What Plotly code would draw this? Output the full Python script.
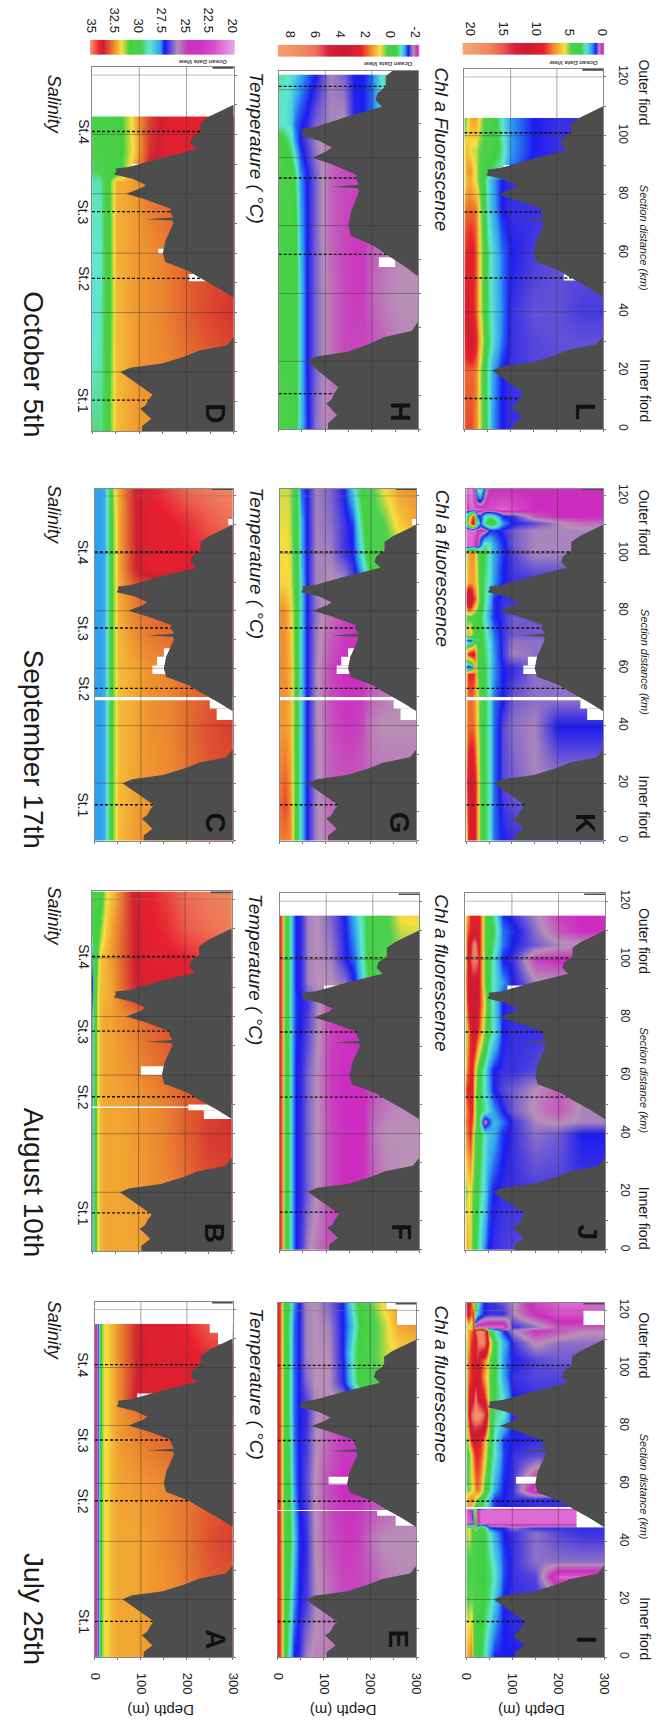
import numpy as np
import plotly.graph_objects as go

FONT = "Liberation Sans"
W, H = 661, 1726

# ---------- bathymetry ----------
BATHY_KM = [0, 1.8, 4.1, 6, 7.6, 8.7, 10.7, 12.4, 20, 21.4, 22.8, 25.3, 27.1, 29, 31.8, 45, 48, 52, 54, 56, 57, 60, 64, 70, 71, 71.4, 72, 74, 75, 78, 80, 82, 83, 85, 86.5, 87.5, 88.5, 89, 92, 95, 97, 99, 101, 104, 106, 110, 111]
BATHY_M = [106, 106, 125, 113, 102, 113, 120, 128, 60, 81, 148, 198, 226, 286, 300, 300, 270, 225, 205, 172, 155, 150, 155, 172, 170, 115, 172, 165, 167, 115, 73, 105, 114, 87, 47, 51, 50, 78, 145, 221, 208, 212, 230, 230, 248, 300, 300]
OUTER_KM = [122.1, 124]
OUTER_M = [255, 255]

# ---------- colour scales: value stops and colours ----------
SAL_LEVELS = [20, 22, 23.4, 24.8, 25.8, 27.2, 27.7, 28.8, 29.7, 30.9, 31.8, 32.4, 33.7, 34.1, 35]
SAL_COLORS = ["#e8a0e8", "#d850c8", "#d030c8", "#c838b8", "#b090b8", "#1818f0", "#30a0f0", "#60e8d0", "#50d050", "#40d040", "#f8e040", "#f09a30", "#d02030", "#e82030", "#f08860"]
TEMP_LEVELS = [-2.4, -2.1, -1.75, -1.35, -1.1, -0.8, -0.4, 0.3, 0.85, 1.6, 2.4, 3.7, 5, 6, 7, 9]
TEMP_COLORS = ["#e8a0e8", "#cc2cc0", "#b890b8", "#1c1cf0", "#30a0f0", "#60e8d0", "#40d040", "#50d050", "#f8e040", "#f09030", "#e8202c", "#c81c30", "#d82040", "#f07060", "#f08860", "#f4a070"]
CHL_LEVELS = [-0.5, -0.2, 0.1, 0.55, 1.1, 1.7, 2.6, 3.4, 4.8, 5.8, 7.5, 9, 11.2, 13.4, 15.4, 17.4, 21]
CHL_COLORS = ["#e8a0e8", "#d850c8", "#cc2cc0", "#b890b8", "#1c1cf0", "#30a0f0", "#60e8d0", "#40d040", "#50d050", "#f8e040", "#f09030", "#e8202c", "#c81c30", "#d82040", "#e86050", "#f08860", "#f4a870"]

# ---------- depth levels ----------
SAL_DEPTH = [0, 3, 6, 10, 15, 20, 30, 40, 50, 90, 120, 160, 200, 250, 300]
TEMP_DEPTH = [0, 5, 8, 12, 18, 25, 35, 45, 60, 80, 110, 140, 160, 180, 200, 230, 260, 300]
CHL_DEPTH = [0, 5, 10, 15, 20, 25, 30, 40, 50, 60, 80, 100, 150, 200, 250, 300]

# ---------- salinity sections ----------
A_KM = [0, 20, 40, 60, 85, 90, 100, 115]
A_Z = [
 [24, 24.5, 26.5, 30.3, 31.3, 31.7, 32, 32.2, 32.3, 32.3, 32.4, 32.5, 32.7, 33, 33],
 [24, 24.5, 26.5, 30.3, 31.3, 31.7, 32, 32.2, 32.3, 32.3, 32.4, 32.5, 32.7, 33, 33],
 [24, 24.5, 26.5, 30.3, 31.3, 31.7, 32, 32.2, 32.3, 32.3, 32.4, 32.6, 32.8, 33.2, 33.4],
 [24, 24.5, 26.5, 30.3, 31.3, 31.7, 32, 32.2, 32.3, 32.4, 32.5, 32.6, 32.8, 33, 33.2],
 [24, 24.5, 26.5, 30.3, 31.3, 31.7, 32, 32.2, 32.4, 32.8, 33, 33.2, 33.3, 33.4, 33.4],
 [24, 24.5, 26.5, 30.3, 31.3, 31.7, 32, 32.2, 32.5, 33.8, 33.9, 33.9, 34, 34, 34],
 [24, 24.5, 26.5, 30.3, 31.3, 31.7, 32, 32.2, 32.5, 33.6, 34, 33.9, 33.9, 34, 34],
 [24, 24.5, 26.5, 30.3, 31.3, 31.7, 32, 32.2, 32.5, 33.6, 33.9, 33.9, 34.1, 34.7, 34.9]]
B_KM = [0, 40, 50, 80, 90, 100, 110, 123]
B_Z = [
 [26, 29, 30.3, 31.6, 32, 32.2, 32.3, 32.3, 32.3, 32.3, 32.4, 32.5, 32.7, 33, 33],
 [26, 29, 30.3, 31.6, 32, 32.2, 32.3, 32.3, 32.3, 32.4, 32.5, 32.7, 33, 33.4, 33.5],
 [26, 29, 30.3, 31.6, 32, 32.2, 32.3, 32.3, 32.3, 32.4, 32.5, 32.7, 33, 33.3, 33.5],
 [26, 29, 30.3, 31.6, 32, 32.2, 32.3, 32.3, 32.4, 32.7, 33, 33.2, 33.3, 33.4, 33.4],
 [27, 30, 30.4, 31.5, 32, 32.1, 32.2, 32.3, 32.5, 33.6, 33.9, 33.9, 34, 34, 34],
 [28, 30.2, 30.3, 31, 31.7, 32.1, 32.2, 32.4, 32.6, 33.7, 34, 34, 34.1, 34.4, 34.6],
 [29.8, 30.2, 30.3, 30.4, 30.8, 31.3, 32, 32.3, 32.5, 33.7, 34, 34.2, 34.6, 34.8, 34.9],
 [30.3, 30.3, 30.3, 30.3, 30.4, 30.6, 31.7, 32, 32.2, 33.8, 34.1, 34.4, 34.8, 34.9, 35]]
C_KM = [0, 40, 60, 85, 95, 110, 123]
C_Z = [
 [27.7, 27.7, 27.7, 27.7, 27.8, 27.9, 29.5, 31.2, 32.1, 32.4, 32.4, 32.5, 32.7, 33, 33],
 [27.7, 27.7, 27.7, 27.7, 27.8, 27.9, 29.5, 31.2, 32.1, 32.3, 32.5, 32.6, 32.9, 33.2, 33.4],
 [27.7, 27.7, 27.7, 27.7, 27.8, 27.9, 29.5, 31.2, 32.1, 32.3, 32.5, 32.6, 32.8, 33, 33.2],
 [27.7, 27.7, 27.7, 27.7, 27.8, 27.9, 29.5, 31.2, 32.2, 32.8, 33, 33.2, 33.3, 33.4, 33.4],
 [27.7, 27.7, 27.7, 27.7, 27.8, 27.9, 29.5, 31.2, 32.2, 33.7, 34, 34, 34, 34, 34],
 [27.7, 27.7, 27.7, 27.7, 27.8, 27.9, 29.5, 31.2, 32.2, 33.7, 34, 34, 34.2, 34.6, 34.8],
 [27.7, 27.7, 27.7, 27.7, 27.8, 27.9, 29.5, 31.5, 32.2, 33.8, 34, 34.4, 34.8, 34.9, 35]]
D_KM = [0, 20, 40, 60, 84, 88, 95, 106]
D_Z = [
 [29.4, 29.4, 29.4, 29.4, 29.3, 29.3, 30.2, 31.3, 32.1, 32.4, 32.4, 32.5, 32.7, 33, 33],
 [28.9, 28.9, 28.9, 29, 29, 29.1, 30.2, 31.3, 32.1, 32.4, 32.5, 32.6, 32.8, 33, 33.2],
 [28.7, 28.7, 28.7, 28.8, 28.9, 29, 30.2, 31.2, 32.1, 32.4, 32.5, 32.7, 33, 33.3, 33.5],
 [28.8, 28.8, 28.8, 28.8, 28.8, 28.9, 30.2, 31.2, 32.2, 32.4, 32.5, 32.7, 33, 33.2, 33.4],
 [28.9, 29, 29, 29, 29, 29.2, 30.3, 31.3, 32.2, 32.4, 32.8, 33, 33.2, 33.4, 33.4],
 [29.5, 29.6, 29.7, 29.7, 29.8, 29.9, 30.2, 30.3, 30.4, 32.4, 33.7, 33.9, 34, 34, 34],
 [29.8, 29.9, 30, 30, 30.1, 30.2, 30.3, 30.3, 30.4, 32, 33.5, 34, 34, 34, 34],
 [30, 30.1, 30.2, 30.2, 30.2, 30.3, 30.3, 30.3, 30.4, 32.2, 33.3, 34, 34, 34, 34]]

# ---------- temperature sections ----------
E_KM = [0, 20, 40, 60, 85, 95, 105, 115, 123]
E_Z = [
 [2.4, 2.2, 1.3, .2, -.3, -.9, -1.35, -1.4, -1.7, -1.8, -1.8, -1.8, -1.8, -1.8, -1.8, -1.8, -1.8, -1.8],
 [2.4, 2.2, 1.3, .3, -.2, -.6, -1.1, -1.35, -1.45, -1.7, -1.85, -2, -2, -2, -2, -1.9, -1.8, -1.8],
 [2.4, 2.2, 1.2, .3, 0, -.4, -.9, -1.3, -1.4, -1.75, -1.95, -2.05, -2.05, -2, -1.85, -1.75, -1.75, -1.75],
 [2.4, 2.2, 1, .3, 0, -.5, -1.1, -1.35, -1.5, -1.75, -2, -2.1, -2.1, -2.1, -2.05, -2, -1.9, -1.8],
 [2.4, 2.2, 1, .3, -.1, -.7, -1.2, -1.35, -1.4, -1.7, -1.85, -2, -2, -2, -2, -2, -2, -2],
 [2.4, 2.2, 1, .3, -.1, -.7, -1.2, -1.35, -1.6, -1.75, -1.75, -1.4, -.9, -.2, .2, .3, .5, .5],
 [2.4, 2.2, 1, .3, -.1, -.7, -1.2, -1.35, -1.7, -1.75, -1.75, -1.35, -.8, -.2, .2, .6, .9, 1],
 [2.4, 2.2, 1, .2, -.2, -.7, -1.2, -1.35, -1.7, -1.75, -1.7, -1.35, -1, -.3, .1, .6, 1.4, 1.6],
 [2.4, 2.2, 1, .2, -.2, -.6, -1.1, -1.35, -1.7, -1.75, -1.6, -1.35, -.8, -.2, .3, 1, 1.5, 1.6]]
F_KM = [0, 20, 40, 60, 85, 92, 100, 115]
F_Z = [
 [2.4, 1.8, .6, .1, -.4, -1, -1.35, -1.45, -1.7, -1.85, -2, -2, -2, -2, -1.9, -1.8, -1.8, -1.8],
 [2.4, 1.8, .6, .1, -.4, -1, -1.35, -1.4, -1.6, -1.75, -2, -2.1, -2.1, -2.05, -1.95, -1.8, -1.75, -1.75],
 [2.4, 1.8, .6, .1, -.4, -1, -1.35, -1.4, -1.6, -1.75, -2, -2.1, -2.1, -2.1, -1.85, -1.75, -1.75, -1.75],
 [2.4, 1.8, .6, .1, -.4, -1, -1.35, -1.4, -1.6, -1.75, -2.05, -2.1, -2.1, -2.1, -2, -1.9, -1.8, -1.8],
 [2.4, 1.8, .6, .1, -.4, -1, -1.3, -1.35, -1.45, -1.7, -2, -2.05, -2.05, -2.05, -2, -2, -2, -2],
 [2.4, 1.8, .6, .1, -.4, -1, -1.35, -1.4, -1.7, -1.75, -1.75, -1.65, -1.35, -.8, -.1, .2, .3, .3],
 [2.4, 1.8, .6, .1, -.4, -1, -1.35, -1.4, -1.7, -1.75, -1.7, -1.4, -1.2, -.7, .1, .2, .3, .3],
 [2.4, 1.8, .6, .1, -.4, -1, -1.35, -1.4, -1.7, -1.75, -1.6, -1.35, -1, -.6, .1, .2, .9, 1]]
G_KM = [0, 12, 40, 60, 80, 90, 100, 110, 123]
G_Z = [
 [1.7, 1.7, 1.7, 1.7, 1.7, 1.5, -.1, -.9, -1.35, -1.7, -1.85, -1.85, -1.85, -1.85, -1.85, -1.85, -1.85, -1.85],
 [1.9, 1.9, 2.1, 2.1, 1.9, 1.5, -.1, -.9, -1.35, -1.7, -1.9, -1.9, -1.9, -1.9, -1.9, -1.9, -1.9, -1.9],
 [1.5, 1.5, 1.5, 1.5, 1.4, 1.2, 0, -.9, -1.35, -1.7, -1.95, -2.05, -2.05, -2, -1.8, -1.75, -1.75, -1.75],
 [1.6, 1.6, 1.6, 1.6, 1.4, 1.2, 0, -.9, -1.35, -1.7, -2, -2.1, -2.1, -2.1, -2, -1.9, -1.8, -1.8],
 [1.6, 1.6, 1.6, 1.5, 1.3, 1, 0, -.9, -1.35, -1.65, -1.85, -2, -2.05, -2.05, -2, -2, -2, -2],
 [.95, .95, .95, .95, .9, .7, 0, -.9, -1.35, -1.7, -1.75, -1.75, -1.5, -1.2, -.6, 0, .3, .3],
 [.9, .9, .9, .9, .8, .7, -.1, -1, -1.35, -1.7, -1.7, -1.45, -1.35, -.8, 0, .2, .3, .3],
 [.8, .8, .8, .8, .8, .6, -.1, -1, -1.35, -1.7, -1.65, -1.45, -1.3, -.6, .1, .3, 1, 1.4],
 [.7, .7, .7, .7, .7, .5, -.1, -1.2, -1.35, -1.7, -1.6, -1.35, -.9, -.3, .2, .9, 1.5, 1.6]]
H_KM = [0, 20, 40, 60, 75, 85, 90, 104.4]
H_Z = [
 [.2, .2, .2, .2, .1, 0, -.1, -.9, -1.3, -1.65, -1.8, -1.8, -1.8, -1.8, -1.8, -1.8, -1.8, -1.8],
 [.1, .1, .1, 0, 0, 0, -.1, -.9, -1.35, -1.6, -1.85, -2, -2, -2, -2, -1.9, -1.8, -1.8],
 [.1, .1, .1, 0, 0, 0, -.1, -.9, -1.35, -1.6, -1.85, -2, -2.05, -2.05, -1.9, -1.8, -1.75, -1.75],
 [.1, .1, .1, 0, 0, 0, -.2, -1, -1.35, -1.6, -1.9, -2, -2.05, -2.05, -1.95, -1.85, -1.8, -1.8],
 [.2, .2, .2, .1, 0, -.1, -.5, -1.1, -1.35, -1.6, -1.9, -2, -2, -2, -2, -2, -2, -2],
 [-.2, -.2, -.3, -.4, -.5, -.7, -1.1, -1.35, -1.5, -1.7, -1.85, -2, -2, -2, -2, -2, -2, -2],
 [-.8, -.8, -.8, -.8, -.85, -.9, -1.2, -1.3, -1.4, -1.6, -1.7, -1.75, -1.4, -1.35, -1.2, -.8, -.3, 0],
 [-.7, -.7, -.7, -.75, -.8, -.85, -.9, -1.05, -1.2, -1.35, -1.7, -1.6, -1.35, -1.35, -1.2, -.6, -.1, .1]]

# ---------- chlorophyll sections ----------
I_KM = [0, 20, 28, 33, 43, 45, 46.5, 51, 52, 55, 58, 70, 75, 84, 90, 97, 103, 109, 113, 114.5, 119, 123]
I_Z = [
 [7, 7, 8, 4.5, 4, 3.6, 3.4, 2.8, 1.7, 1.1, 1.1, 1.1, 1, 1, 1, 1],
 [4.8, 4.8, 5, 4.8, 4.5, 4.2, 3.8, 3.4, 3, 2.2, 1.1, 1, 1, 1, 1, 1],
 [4, 4.5, 4.8, 4.5, 4.3, 4, 3.8, 3.4, 3.2, 2.6, 1.3, 1, .9, -.3, -.3, -.3],
 [4, 4.5, 4.8, 4.5, 4.3, 4, 3.8, 3.4, 3, 2.4, 1.3, 1, .7, .7, .7, .7],
 [5, 6, 5, 4.5, 4.2, 4, 3.8, 3.4, 2.6, 1.8, 1.1, 1, .7, .9, 1, 1],
 [5, 6, 5, 2.6, 7, 2.6, 4, 3.4, 1.2, 1.1, 1.1, .7, 1, 1, 1, 1],
 [-.3, -.3, -.2, 1.5, 8, .2, -.3, -.3, -.3, -.3, -.3, -.3, -.3, -.3, -.3, -.3],
 [-.2, -.2, .1, 3, 7, .1, -.3, -.3, -.3, -.3, -.3, -.3, -.3, -.3, -.3, -.3],
 [7, 7, 7, 5, 4, 3.6, 3.4, 2.8, 1.8, 1.2, 1.1, 1.1, 1, 1, 1, 1],
 [6, 7, 7.5, 7.5, 5.8, 5, 4.2, 3, 2, 1.2, 1.1, 1, 1, 1, 1, 1],
 [5, 5, 5.5, 6, 7.5, 8, 7, 4.5, 3, 1.8, 1.1, 1, -.2, -.1, .5, .5],
 [4, 4.5, 6, 8, 9, 9, 8.5, 6.5, 3.6, 2.6, 1.3, 1, .9, .9, .9, .9],
 [4.5, 6, 9, 10, 10, 9, 9, 7, 4, 2.6, 1.2, 1.1, 1, 1, 1, 1],
 [5, 9, 16, 18, 19, 19, 18, 15, 5, 3, 2.6, 1, 1, 1, 1, 1],
 [4, 9, 10, 12, 18, 12, 10, 9, 5, 3.4, 2.4, 1.1, 1, 1, 1, 1],
 [5, 8, 9, 10, 9, 11, 9, 7, 5, 3.5, 1.8, 1, .9, .9, .9, .9],
 [5, 8, 9, 10, 11, 14, 9, 8, 5, 3.6, 1.7, 1.1, .9, .8, .8, .8],
 [5, 7, 9, 9, 10, 16, 18, 17, 7, 3.5, 2, 1, .5, .7, .7, .7],
 [6, 7, 8, 9, 16, 17, 18, 16, 4, 2.8, 1.1, .6, .1, .3, .5, .5],
 [5, 6, 5, 9, -.2, -.3, -.3, -.3, -.3, -.3, -.3, 1, .7, .3, .3, .3],
 [9, 10, 8, 9, 3, 2, 1.5, 1.1, 1, 1, 1, .6, .1, -.2, -.2, -.2],
 [9, 11, 8, 6, 4, 3, 1.7, 1.1, 1, 1, .8, .6, -.1, -.3, -.3, -.3]]
J_KM = [0, 20, 40, 44, 48, 55, 62, 75, 85, 92, 100, 105, 110, 115]
J_Z = [
 [6, 7, 6, 4.5, 3.5, 3, 2.6, 1.6, 1.1, 1, .95, .9, .85, .85, .85, .85],
 [5, 5.5, 6, 5, 4.5, 3.6, 3, 2.4, 1.5, 1.1, 1, 1, .95, .95, .95, .95],
 [7, 8, 9, 7, 5, 4.5, 3.6, 2.6, 2.2, 1.9, 1.2, 1, .7, .8, 1.1, 1.1],
 [8, 8, 9, 8, 6, 4, 3, 0.1, 1.1, 2, 1.5, 1, .6, .5, .6, .6],
 [7, 8, 9, 9, 6, 4, 3.4, 3, 2.4, 1.7, 1.1, .8, .5, .3, .6, .6],
 [8, 9, 9.5, 9.5, 6, 4.2, 3.4, 2.6, 1.8, 1.1, .9, .8, .55, .3, .5, .5],
 [6, 8, 9, 9, 7, 4.5, 3.5, 2.6, 1.7, 1.1, 1, 1, .9, .6, .6, .6],
 [5, 7, 9, 10, 11, 9, 8, 5, 3.5, 2.6, 1.1, 1, 1, 1, 1, 1],
 [6, 9, 12, 12, 11, 11, 9, 6, 3.5, 2.4, 1.1, 1, 1, 1, 1, 1],
 [7, 9, 11, 12, 12, 11, 9, 5, 3.4, 2.6, 1.7, 1.1, .6, .6, .6, .6],
 [6, 9, 14, 17, 17, 16, 9, 5, 3.5, 2.6, 1.1, 1, .2, .1, .1, .1],
 [6, 9, 12, 16, 18, 14, 9, 5, 4, 3, 1.5, 1.1, .8, .6, .6, .6],
 [6, 8, 9, 10, 10, 10, 9, 5, 4, 3.4, 1.5, 1.2, .7, .3, .1, .1],
 [6, 7, 9, 9, 9, 9, 9, 5, 4, 3, 1.2, 1, .6, .2, .1, .1]]
K_KM = [0, 20, 40, 49, 58, 60.5, 65, 70, 72, 78, 84, 90, 100, 103, 108, 110.5, 113, 115.5, 123]
K_Z = [
 [6, 9, 10, 10, 9, 7, 4.5, 3.4, 2.6, 1.5, 1.1, 1, 1, 1, 1, 1],
 [8, 10, 11, 10, 9, 7, 4.5, 3.4, 2.6, 1.5, .9, .8, .6, .6, .6, .6],
 [7, 8, 8, 8, 7, 5.8, 4.5, 3.4, 2.6, 1.5, .9, .7, .6, 1.1, 1.1, 1.1],
 [7, 8, 8, 7.5, 7, 5.8, 4.5, 3.4, 2.6, 1.5, 1.1, .8, .7, .7, .7, .7],
 [7, 9, 9, 9, 7.5, 5, 4, 3.4, 2.5, 1.7, 1.1, 1, .7, .7, .7, .7],
 [1.2, .3, 1.2, 4, 7, 4, 4, 3.4, 2.5, 1.7, 1.1, 1, .7, .7, .7, .7],
 [7, 9, 10, 10, 8, 5, 4, 3.2, 2.6, 1.7, 1, .6, .7, .7, .7, .7],
 [1.6, 1, .8, 3, 4, 3, 4, 3, 2.4, 1.6, 1, .7, .7, .7, .7, .7],
 [5, 7, 6, 4, 4, 3.5, 3.5, 3, 2.2, 1.5, 1, .8, .8, .8, .8, .8],
 [4, 4.5, 4.5, 4, 4, 4, 3.4, 2.6, 1.7, 1.2, 1, .8, .8, .8, .8, .8],
 [11, 13, 12, 9, 8, 6, 4, 3, 2, 1.2, 1, 1, 1, 1, 1, 1],
 [6, 7, 7, 7, 6.5, 5.5, 4, 3, 2.6, 1.7, 1.1, 1, 1, 1, 1, 1],
 [5, 7, 7.5, 7.5, 6, 5, 4, 3.4, 2.6, 1.8, 1.2, .9, .6, .6, .6, .6],
 [-.3, -.3, -.3, -.2, .1, .1, 1.5, 3, 2.6, 1.8, 1.2, .8, .6, .6, .6, .6],
 [-.3, -.3, -.3, -.3, -.3, .1, .1, .1, 1.1, 1.2, 1, .8, .6, .6, .6, .6],
 [3.5, 5.8, 9, 11, 5.8, 3, 1.2, 3, 4, 4, 1.7, 1.1, .9, .6, .4, .4],
 [3, 4, 7, 9, 4, 1.2, 1, 2.4, 3, 2.5, 1.1, 1, .3, .1, .1, .1],
 [.1, -.2, -.3, -.3, -.3, -.3, -.3, -.1, -.2, -.2, -.3, -.2, .1, .1, .1, .1],
 [-.3, -.4, -.4, -.1, 1, 3, 3.4, 1, .1, .1, .1, .1, .1, .1, .1, .1]]
L_KM = [0, 20, 30, 40, 60, 75, 85, 88, 95, 106]
L_Z = [
 [8, 8.5, 8.5, 8.5, 8, 7.5, 6, 4.5, 3, 1.7, 1.1, 1, 1, 1, 1, 1],
 [8, 8, 8, 8, 8, 7.5, 6, 4.2, 2.8, 1.8, 1.1, 1, .9, .9, .9, .9],
 [9, 10, 11, 11, 10, 9, 7.5, 5, 3.4, 2.5, 1.5, 1, .9, .85, .85, .85],
 [9, 11, 10, 9, 9, 8, 6.5, 4.5, 3.1, 2.4, 1.6, 1, .85, .85, .95, .95],
 [8.5, 9, 9.5, 9.5, 9, 8, 6.5, 4.5, 3.1, 2.4, 1.5, 1.1, .95, .85, .85, .85],
 [7.5, 8, 8, 8, 8, 7.5, 6, 4, 2.6, 1.9, 1.1, 1, 1, 1, 1, 1],
 [5.5, 6.5, 7, 6.5, 6, 5.5, 5, 3.5, 2.5, 1.8, 1.1, 1, 1, 1, 1, 1],
 [5.8, 7, 7.5, 7, 6, 5.5, 5, 4, 3.4, 3, 2.6, 1.5, 1, 1, 1, 1],
 [6, 6.5, 6, 5.5, 5.5, 5.5, 5, 4.8, 4.4, 4, 3, 1.7, 1.1, 1, 1, 1],
 [4, 5.5, 6.5, 7, 7.2, 7, 6, 4.8, 4.4, 4, 2.6, 1.7, 1.1, 1, 1, 1]]

# ---------- stations (km) ----------
ST_NAMES = ["St.1", "St.2", "St.3", "St.4"]
ST_JUL = [12.4, 54, 75, 101]
ST_AUG = [13, 52.6, 75, 100.5]
ST_SEP = [12.5, 53, 74, 100.5]
ST_OCT = [10.5, 51.5, 74, 101]

# ---------- no-data holes: km from, km to, depth from, depth to ----------
HOLES_A = [(88.5, 91, 92, 145), (108, 116, 268, 300), (112, 116, 250, 300)]
HOLES_B = [(60, 63, 105, 157), (48, 50, 207, 300), (45, 48, 240, 300), (48.8, 49.3, 0, 300)]
HOLES_C = [(58, 61, 125, 155), (61, 64, 135, 155), (64, 67, 150, 165), (42, 46, 265, 300), (46, 50, 250, 300), (48.9, 50, 0, 300), (110, 112, 290, 300)]
HOLES_D = [(50.5, 53, 205, 245), (88.5, 90, 85, 115), (60, 61.5, 140, 160)]
HOLES_E = [(59.8, 62.5, 110, 155), (45.5, 49, 255, 300), (49, 51, 215, 300), (50.6, 51, 0, 300), (115, 123, 258, 300), (120.5, 123, 235, 300)]
HOLES_F = [(88.5, 91, 95, 155)]
HOLES_G = [(58, 61, 125, 155), (61, 64, 135, 155), (64, 67, 150, 165), (42, 46, 265, 300), (46, 50, 250, 300), (48.9, 50, 0, 300), (110, 112, 290, 300)]
HOLES_H = [(47.8, 50.7, 215, 250), (86, 88, 85, 125)]
HOLES_I = [(60, 62.5, 108, 160), (45, 52, 240, 300), (51.4, 52, 0, 300), (115, 120, 255, 300)]
HOLES_J = [(88.5, 91, 90, 145)]
HOLES_K = [(58, 61, 125, 155), (61, 64, 135, 155), (42, 46, 265, 300), (46, 50, 250, 300), (48.9, 50, 0, 300)]
HOLES_L = [(50.7, 53.3, 215, 250), (88.5, 90, 85, 115)]

# ---------- texts ----------
TITLES = ["October 5th", "September 17th", "August 10th", "July 25th"]
TITLE_Y = [361, 747, 1182, 1611]
VARS = [["Salinity", "Temperature ( °C)", "Chl a Fluorescence"],
        ["Salinity", "Temperature ( °C)", "Chl a fluorescence"],
        ["Salinity", "Temperature ( °C)", "Chl a fluorescence"],
        ["Salinity", "Temperature ( °C)", "Chl a fluorescence"]]
VAR_Y = [[100, 144, 145], [512, 561, 566], [915, 969, 972], [1331, 1385, 1385]]
VAR_X = [48, 255, 445]
SECTION_Y = [234, 660, 1080, 1488]
INNER_Y = [387, 805, 1218, 1630]
OUTER_Y = [88, 520, 940, 1346]

SAL_TICKS = [35, 32.5, 30, 27.5, 25, 22.5, 20]
TEMP_TICKS = [8, 6, 4, 2, 0, -2]
CHL_TICKS = [20, 15, 10, 5, 0]

# ---------- panels ----------
LEVELS = {"S": (SAL_LEVELS, SAL_COLORS), "T": (TEMP_LEVELS, TEMP_COLORS), "C": (CHL_LEVELS, CHL_COLORS)}
DEPTHS = {"S": SAL_DEPTH, "T": TEMP_DEPTH, "C": CHL_DEPTH}


def scale(kind):
    lv, col = LEVELS[kind]
    return [[(v - lv[0]) / (lv[-1] - lv[0]), c] for v, c in zip(lv, col)]


PANELS = [
    ("D", D_KM, D_Z, "S", HOLES_D, ST_OCT, 122.8, (87, 232, 62, 428), 0, 0),
    ("H", H_KM, H_Z, "T", HOLES_H, ST_OCT, 105.6, (278, 421, 66, 426), 0, 1),
    ("L", L_KM, L_Z, "C", HOLES_L, ST_OCT, 122.8, (468, 610, 64, 426), 0, 2),
    ("C", C_KM, C_Z, "S", HOLES_C, ST_SEP, 122.4, (90, 231, 486, 839), 1, 0),
    ("G", G_KM, G_Z, "T", HOLES_G, ST_SEP, 122.4, (279, 419, 486, 839), 1, 1),
    ("K", K_KM, K_Z, "C", HOLES_K, ST_SEP, 122.4, (470, 610, 486, 839), 1, 2),
    ("B", B_KM, B_Z, "S", HOLES_B, ST_AUG, 122.7, (87, 230, 890, 1251), 2, 0),
    ("F", F_KM, F_Z, "T", HOLES_F, ST_AUG, 122.7, (279, 422, 892, 1250), 2, 1),
    ("J", J_KM, J_Z, "C", HOLES_J, ST_AUG, 122.7, (469, 612, 892, 1250), 2, 2),
    ("A", A_KM, A_Z, "S", HOLES_A, ST_JUL, 122.7, (90, 231, 1302, 1659), 3, 0),
    ("E", E_KM, E_Z, "T", HOLES_E, ST_JUL, 122.7, (277, 419, 1303, 1659), 3, 1),
    ("I", I_KM, I_Z, "C", HOLES_I, ST_JUL, 122.7, (470, 611, 1303, 1659), 3, 2),
]
BARS = [
    ("S", SAL_TICKS, (85, 233, 35, 50), (35.1, 19.7)),
    ("T", TEMP_TICKS, (277, 422, 40, 52), (9.0, -2.3)),
    ("C", CHL_TICKS, (466, 611, 38, 50), (21.2, -0.25)),
]
ODV = [(200, 57), (390, 59), (580, 58)]


def dx(a, b):
    return [a / W, b / W]


def dy(top, bottom):
    return [1 - bottom / H, 1 - top / H]


def refs(n):
    s = "" if n == 1 else str(n)
    return "x" + s, "y" + s, s


fig = go.Figure()
layout = dict(width=W, height=H, margin=dict(l=0, r=0, t=0, b=0), paper_bgcolor="white", plot_bgcolor="white",
              showlegend=False, font=dict(family=FONT, color="#222"))
shapes, anns = [], []


def note(text, x, y, size, angle=90, color="#1a1a1a"):
    anns.append(dict(text=text, x=x / W, y=1 - y / H, xref="paper", yref="paper", showarrow=False, textangle=angle,
                     xanchor="center", yanchor="middle", font=dict(size=size, family=FONT, color=color)))


for n, (letter, km, z, kind, holes, stations, top, box, row, col) in enumerate(PANELS, start=1):
    xa, ya, key = refs(n)
    lv = LEVELS[kind][0]
    # final duplicate keeps the coloured area from overrunning the last column
    y_nodes = list(km) + [km[-1] + 0.02]
    z_nodes = list(z) + [z[-1]]
    fig.add_trace(go.Heatmap(x=DEPTHS[kind], y=y_nodes, z=z_nodes, zmin=lv[0], zmax=lv[-1], colorscale=scale(kind),
                             zsmooth="best", showscale=False, xaxis=xa, yaxis=ya, hoverinfo="skip"))
    for (k0, k1, d0, d1) in holes:
        fig.add_trace(go.Scatter(x=[d0, d1, d1, d0, d0], y=[k0, k0, k1, k1, k0], fill="toself", fillcolor="white",
                                 mode="none", xaxis=xa, yaxis=ya, hoverinfo="skip"))
    fig.add_trace(go.Scatter(x=BATHY_M + [300, 300, BATHY_M[0]], y=BATHY_KM + [BATHY_KM[-1], 0, 0], fill="toself",
                             fillcolor="#4d4d4d", mode="none", xaxis=xa, yaxis=ya, hoverinfo="skip"))
    fig.add_trace(go.Scatter(x=OUTER_M + [300, 300, OUTER_M[0]], y=OUTER_KM + [OUTER_KM[-1], OUTER_KM[0], OUTER_KM[0]],
                             fill="toself", fillcolor="#4d4d4d", mode="none", xaxis=xa, yaxis=ya, hoverinfo="skip"))
    for s in stations:
        fig.add_trace(go.Scatter(x=[0, float(np.interp(s, BATHY_KM, BATHY_M))], y=[s, s], mode="lines",
                                 line=dict(color="#111", width=1.4, dash="3px,2px"), xaxis=xa, yaxis=ya, hoverinfo="skip"))
    show_depth = row == 3
    show_km = col == 2
    layout[f"xaxis{key}"] = dict(domain=dx(box[0], box[1]), range=[0, 300], anchor=ya, side="bottom", showgrid=False, zeroline=False,
                                 tickvals=[0, 50, 100, 150, 200, 250, 300], ticktext=["0", "", "100", "", "200", "", "300"],
                                 ticks="outside", ticklen=2, tickcolor="#777", tickwidth=0.8, showticklabels=show_depth, tickangle=90,
                                 tickfont=dict(size=13, family=FONT, color="#222"), ticklabelstandoff=10,
                                 showline=True, linecolor="#8a8a8a", linewidth=1, mirror=True)
    vals = list(range(0, int(top) + 1, 10))
    layout[f"yaxis{key}"] = dict(domain=dy(box[2], box[3]), range=[0, top], anchor=xa, side="right", showgrid=False, zeroline=False,
                                 tickvals=vals, ticktext=[str(v) if v % 20 == 0 else "" for v in vals],
                                 ticks="outside", ticklen=2, tickcolor="#777", tickwidth=0.8, showticklabels=show_km, tickangle=90,
                                 tickfont=dict(size=12, family=FONT, color="#222"), ticklabelstandoff=8,
                                 showline=True, linecolor="#8a8a8a", linewidth=1, mirror=True)
    for d in (100, 200):
        shapes.append(dict(type="line", xref=xa, yref=f"{ya} domain", x0=d, x1=d, y0=0, y1=1, layer="above",
                           line=dict(color="rgba(50,50,50,0.55)", width=0.8)))
    for k in range(20, int(top) + 1, 20):
        shapes.append(dict(type="line", xref=f"{xa} domain", yref=ya, x0=0, x1=1, y0=k, y1=k, layer="above",
                           line=dict(color="rgba(50,50,50,0.5)" if k < 120 else "rgba(120,120,120,0.6)", width=0.8)))
    note(f"<b>{letter}</b>", box[1] - 18, box[3] - 18, 28, color="#111")
    if col == 0:
        for name, s in zip(ST_NAMES, stations):
            anns.append(dict(text=name, x=78 / W, xref="paper", y=s, yref=ya, showarrow=False, textangle=90,
                             xanchor="center", yanchor="middle", font=dict(size=14, family=FONT, color="#1a1a1a")))
    if show_depth:
        note("Depth (m)", (box[0] + box[1]) / 2 - 4, 1713, 15, angle=180)

# colour bars
for m, (kind, ticks, box, rng) in enumerate(BARS):
    n = 13 + m
    lv = LEVELS[kind][0]
    fig.add_trace(go.Heatmap(x=lv, y=[0, 1], z=[lv, lv], zmin=lv[0], zmax=lv[-1], colorscale=scale(kind), zsmooth="best",
                             showscale=False, xaxis=f"x{n}", yaxis=f"y{n}", hoverinfo="skip"))
    layout[f"xaxis{n}"] = dict(domain=dx(box[0], box[1]), range=list(rng), anchor=f"y{n}", side="top", showgrid=False, zeroline=False,
                               tickvals=ticks, ticktext=[str(t) for t in ticks], ticks="", tickangle=90, showline=False,
                               tickfont=dict(size=13, family=FONT, color="#222"), ticklabelstandoff=4)
    layout[f"yaxis{n}"] = dict(domain=dy(box[2], box[3]), range=[0, 1], anchor=f"x{n}", showgrid=False, zeroline=False,
                               showticklabels=False, ticks="", showline=False)
    note("<i><b>Ocean Data View</b></i>", ODV[m][0], ODV[m][1], 6, angle=180, color="#444")

for i, t in enumerate(TITLES):
    note(t, 27, TITLE_Y[i], 28)
    for j in range(3):
        note(f"<i>{VARS[i][j]}</i>", VAR_X[j], VAR_Y[i][j], 19 if j else 18)
    note("<i>Section distance (km)</i>", 652, SECTION_Y[i], 11)
    note("Inner fiord", 652, INNER_Y[i], 14)
    note("Outer fiord", 652, OUTER_Y[i], 14)

layout["shapes"] = shapes
layout["annotations"] = anns
fig.update_layout(**layout)
fig.write_html("out.html", config={"displayModeBar": False}, post_script="document.body.style.margin='0';")
